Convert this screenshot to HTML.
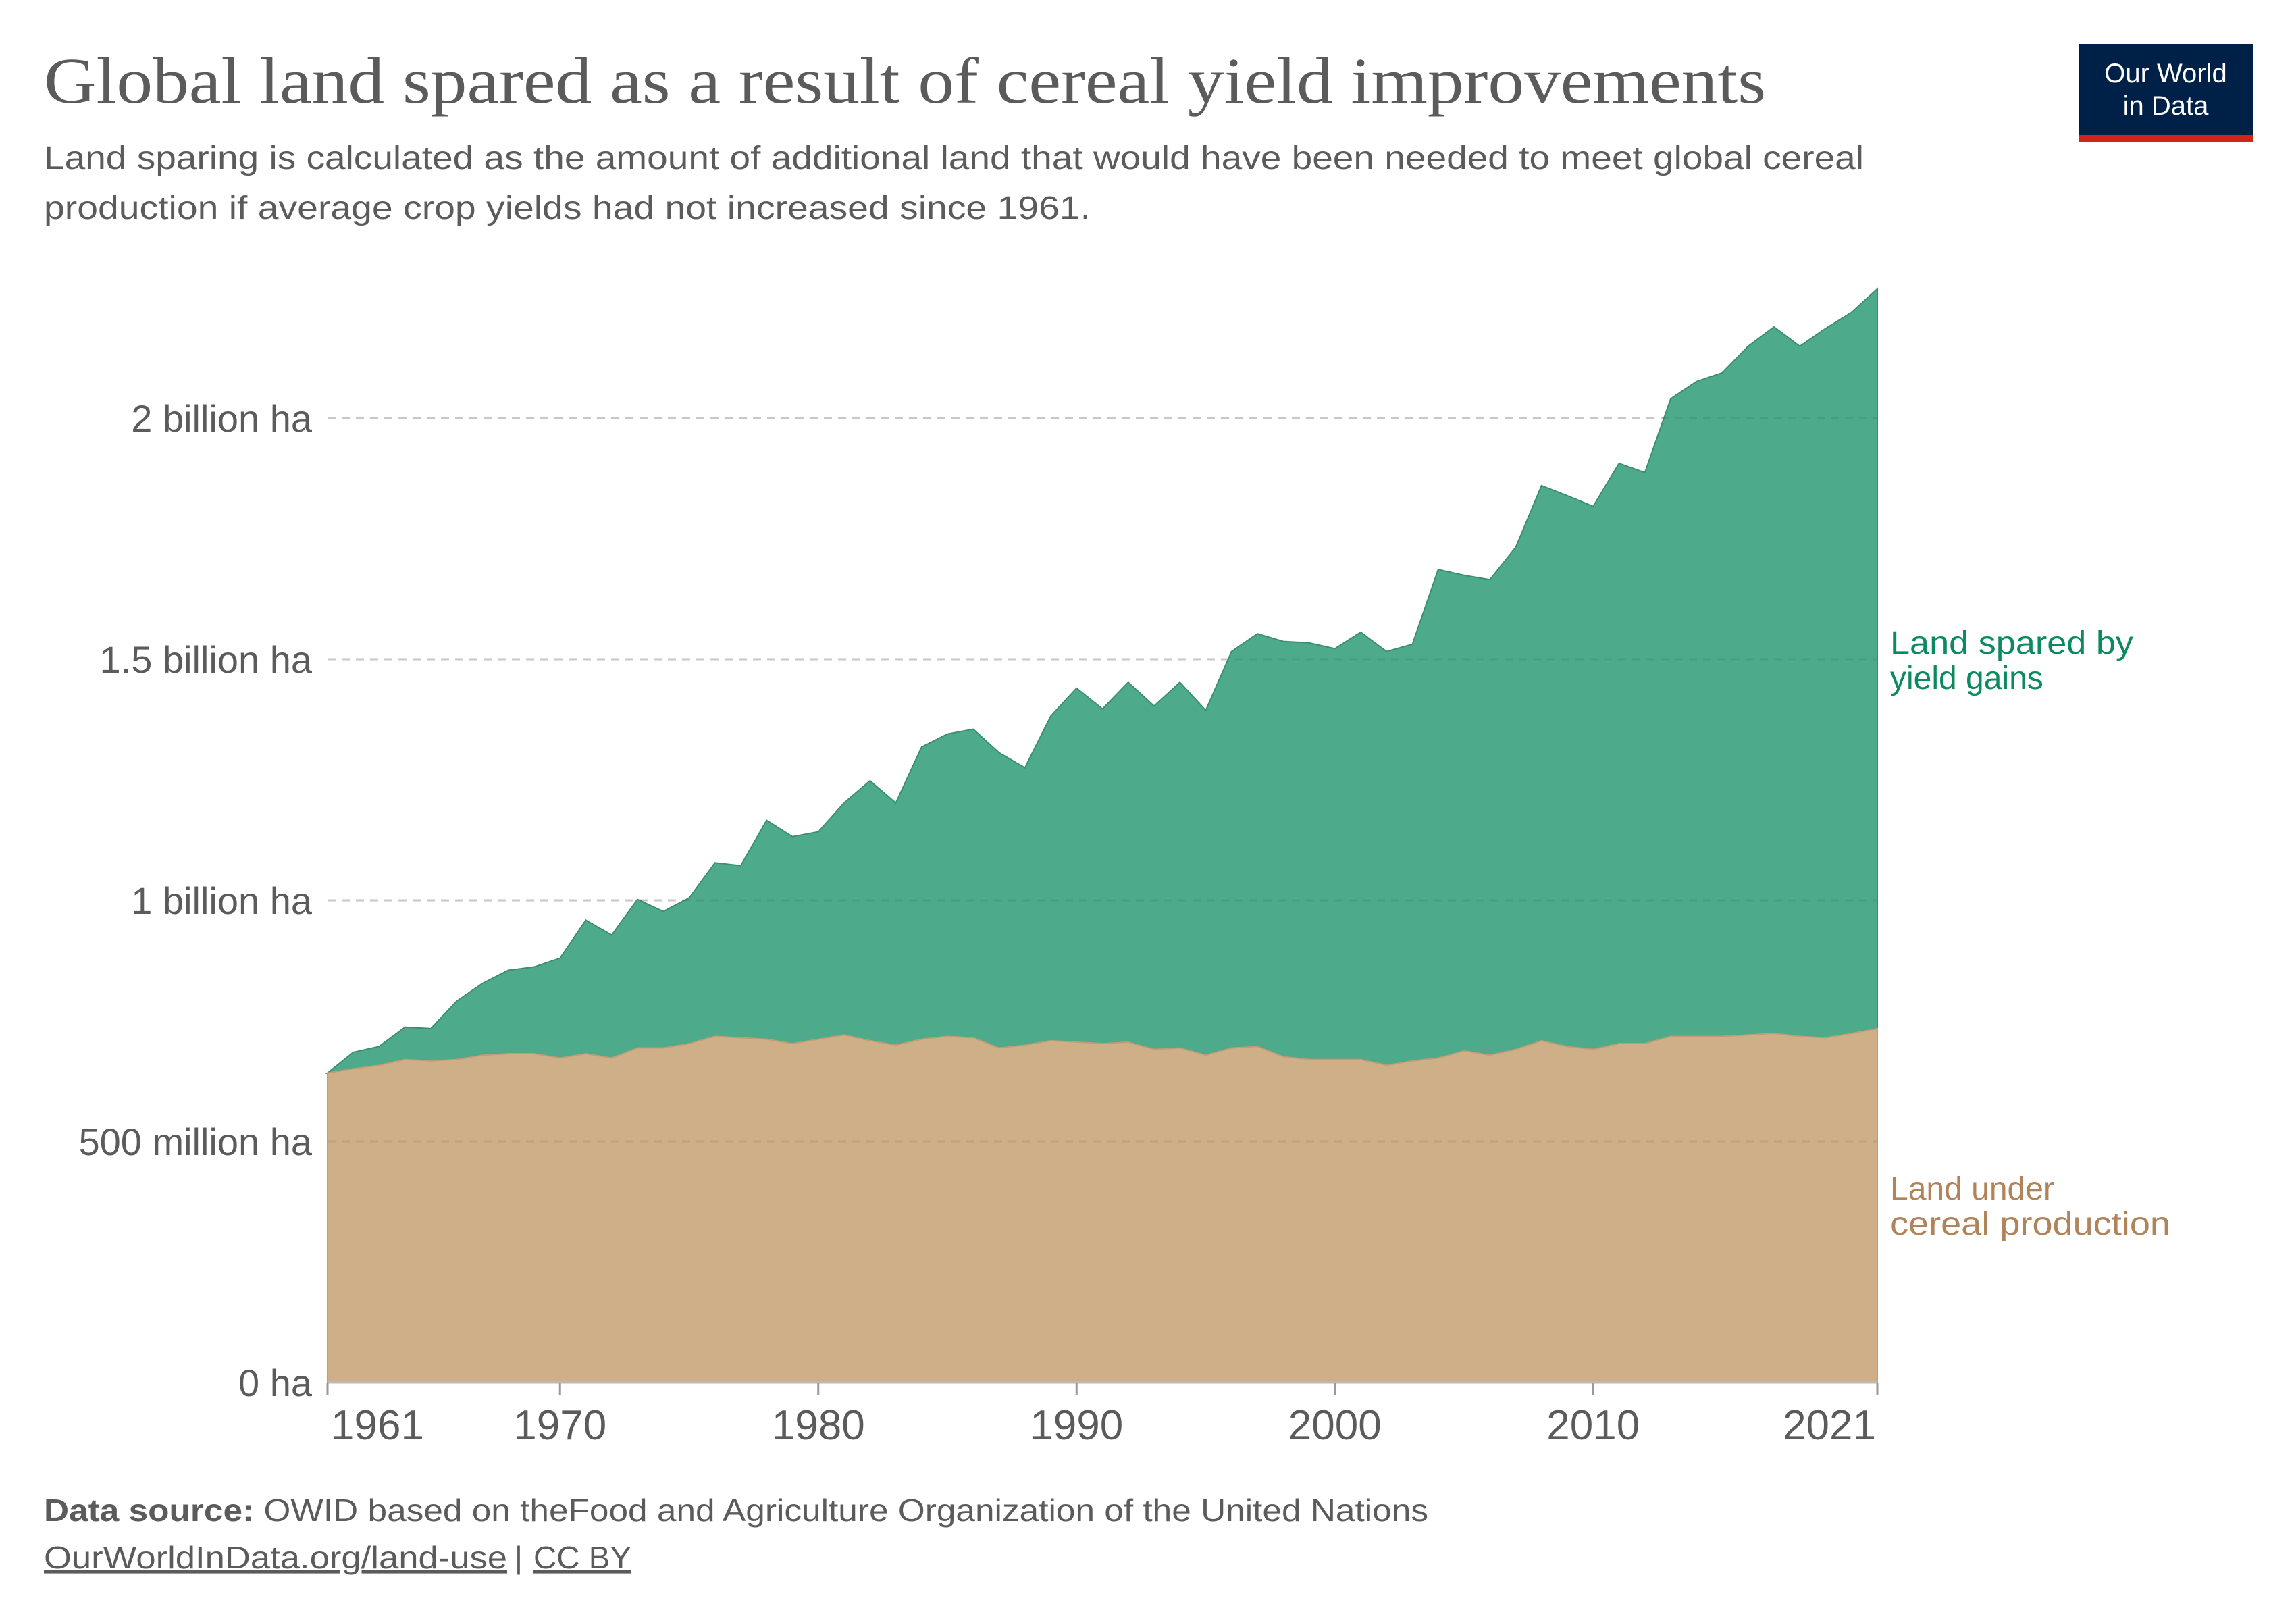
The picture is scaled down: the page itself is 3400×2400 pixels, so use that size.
<!DOCTYPE html>
<html><head><meta charset="utf-8"><style>
html,body{margin:0;padding:0;background:#fff;}
svg{display:block;}
</style></head><body>
<svg id="chart" width="3400" height="2400" viewBox="0 0 3400 2400" xmlns="http://www.w3.org/2000/svg" font-family="Liberation Sans, sans-serif">
<rect width="3400" height="2400" fill="#fff"/>
<text x="65" y="152" style="font-family:'Liberation Serif',serif" font-size="96" fill="#5b5b5b" textLength="2550" lengthAdjust="spacingAndGlyphs">Global land spared as a result of cereal yield improvements</text>
<text x="65" y="250" font-size="48" fill="#5b5b5b" textLength="2695" lengthAdjust="spacingAndGlyphs">Land sparing is calculated as the amount of additional land that would have been needed to meet global cereal</text>
<text x="65" y="324" font-size="48" fill="#5b5b5b" textLength="1550" lengthAdjust="spacingAndGlyphs">production if average crop yields had not increased since 1961.</text>
<g>
<rect x="3078" y="65" width="258" height="135" fill="#002147"/>
<rect x="3078" y="200" width="258" height="10" fill="#ce261e"/>
<text x="3207" y="122" font-size="40" fill="#fff" text-anchor="middle">Our World</text>
<text x="3207" y="170" font-size="40" fill="#fff" text-anchor="middle">in Data</text>
</g>
<g id="grid"></g>
<g id="areas"></g>
<g id="yaxis"></g>
<g id="xaxis"></g>
<g>
<text x="2799" y="968" font-size="48" fill="#0b8a5f" textLength="360" lengthAdjust="spacingAndGlyphs">Land spared by</text>
<text x="2799" y="1020" font-size="48" fill="#0b8a5f">yield gains</text>
<text x="2799" y="1776" font-size="48" fill="#b18358">Land under</text>
<text x="2799" y="1828" font-size="48" fill="#b18358" textLength="415" lengthAdjust="spacingAndGlyphs">cereal production</text>
</g>
<text x="65" y="2252" font-size="46" fill="#5b5b5b" textLength="2050" lengthAdjust="spacingAndGlyphs"><tspan font-weight="bold">Data source:</tspan> OWID based on theFood and Agriculture Organization of the United Nations</text>
<text x="65" y="2322" font-size="46" fill="#5b5b5b" text-decoration="underline" textLength="686" lengthAdjust="spacingAndGlyphs">OurWorldInData.org/land-use</text>
<text x="762" y="2322" font-size="46" fill="#5b5b5b">|</text>
<text x="790" y="2322" font-size="46" fill="#5b5b5b" text-decoration="underline" textLength="145" lengthAdjust="spacingAndGlyphs">CC BY</text>
</svg>
<script>
const years = [];
for (let y = 1961; y <= 2021; y++) years.push(y);
const cerealLand = [0.642,0.651,0.658,0.670,0.667,0.670,0.679,0.682,0.682,0.673,0.682,0.673,0.694,0.694,0.703,0.718,0.715,0.712,0.703,0.712,0.721,0.709,0.700,0.712,0.718,0.715,0.694,0.700,0.709,0.706,0.703,0.706,0.691,0.694,0.679,0.694,0.697,0.676,0.670,0.670,0.670,0.658,0.667,0.673,0.688,0.679,0.691,0.709,0.697,0.691,0.703,0.703,0.718,0.718,0.718,0.721,0.724,0.718,0.715,0.724,0.734];
const sparedLand = [0.000,0.034,0.039,0.067,0.067,0.121,0.149,0.173,0.180,0.207,0.277,0.255,0.308,0.283,0.302,0.360,0.357,0.454,0.429,0.430,0.481,0.539,0.502,0.606,0.627,0.640,0.612,0.575,0.673,0.734,0.694,0.746,0.712,0.758,0.715,0.822,0.856,0.861,0.864,0.852,0.886,0.858,0.864,1.013,0.986,0.986,1.041,1.151,1.142,1.126,1.203,1.184,1.322,1.358,1.376,1.428,1.465,1.431,1.471,1.495,1.534];
const yTicks = [0, 0.5, 1, 1.5, 2];
const yTickLabels = ["0 ha", "500 million ha", "1 billion ha", "1.5 billion ha", "2 billion ha"];
const xTicks = [1961, 1970, 1980, 1990, 2000, 2010, 2021];

const NS = "http://www.w3.org/2000/svg";
const X0 = 485, X1 = 2780, Y0 = 2047, PX_PER_BN = 714;
function xScale(yr){ return X0 + (yr - 1961) / (2021 - 1961) * (X1 - X0); }
function yScale(v){ return Y0 - v * PX_PER_BN; }
function mk(tag, attrs){ const e = document.createElementNS(NS, tag); for (const k in attrs) e.setAttribute(k, attrs[k]); return e; }

const grid = document.getElementById('grid');
const yaxis = document.getElementById('yaxis');
yTicks.forEach((t, i) => {
  if (t > 0) {
    const l = mk('line', {x1: X0, x2: X1, y1: yScale(t), y2: yScale(t), stroke: '#d8d8d8', 'stroke-width': 3, 'stroke-dasharray': '12,9'});
    
    
    grid.appendChild(l);
  }
  const tx = mk('text', {x: 462, y: yScale(t) + 20, 'font-size': 56, fill: '#5b5b5b', 'text-anchor': 'end'});
  tx.textContent = yTickLabels[i];
  
  
  yaxis.appendChild(tx);
});

const areas = document.getElementById('areas');
let topPts = [], cerPts = [];
years.forEach((yr, i) => {
  cerPts.push(xScale(yr) + ',' + yScale(cerealLand[i]));
  topPts.push(xScale(yr) + ',' + yScale(cerealLand[i] + sparedLand[i]));
});
const revCer = cerPts.slice().reverse();
const spared = mk('polygon', {points: topPts.concat(revCer).join(' '), fill: '#4dab8c', stroke: '#3a8f72', 'stroke-width': 2});


areas.appendChild(spared);
const cereal = mk('polygon', {points: cerPts.concat([xScale(2021) + ',' + Y0, xScale(1961) + ',' + Y0]).join(' '), fill: '#cfaf88', stroke: '#bf9d74', 'stroke-width': 2});


areas.appendChild(cereal);
yTicks.forEach(t => {
  if (t > 0) {
    const l = mk('line', {x1: X0, x2: X1, y1: yScale(t), y2: yScale(t), stroke: 'rgba(0,0,0,0.08)', 'stroke-width': 3, 'stroke-dasharray': '12,9'});
    
    
    areas.appendChild(l);
  }
});

const xaxis = document.getElementById('xaxis');
const axisLine = mk('line', {x1: X0, x2: X1, y1: Y0, y2: Y0, stroke: '#bbb', 'stroke-width': 3});


xaxis.appendChild(axisLine);
xTicks.forEach((yr, i) => {
  const x = xScale(yr);
  const tk = mk('line', {x1: x, x2: x, y1: Y0, y2: Y0 + 18, stroke: '#999', 'stroke-width': 3});
  
  
  xaxis.appendChild(tk);
  let anchor = 'middle';
  if (i === 0) anchor = 'start';
  if (i === xTicks.length - 1) anchor = 'end';
  const tx = mk('text', {x: i === 0 ? x + 5 : (i === xTicks.length - 1 ? x - 2 : x), y: 2131, 'font-size': 62, fill: '#5b5b5b', 'text-anchor': anchor});
  tx.textContent = String(yr);
  
  
  xaxis.appendChild(tx);
});
</script>
</body></html>
